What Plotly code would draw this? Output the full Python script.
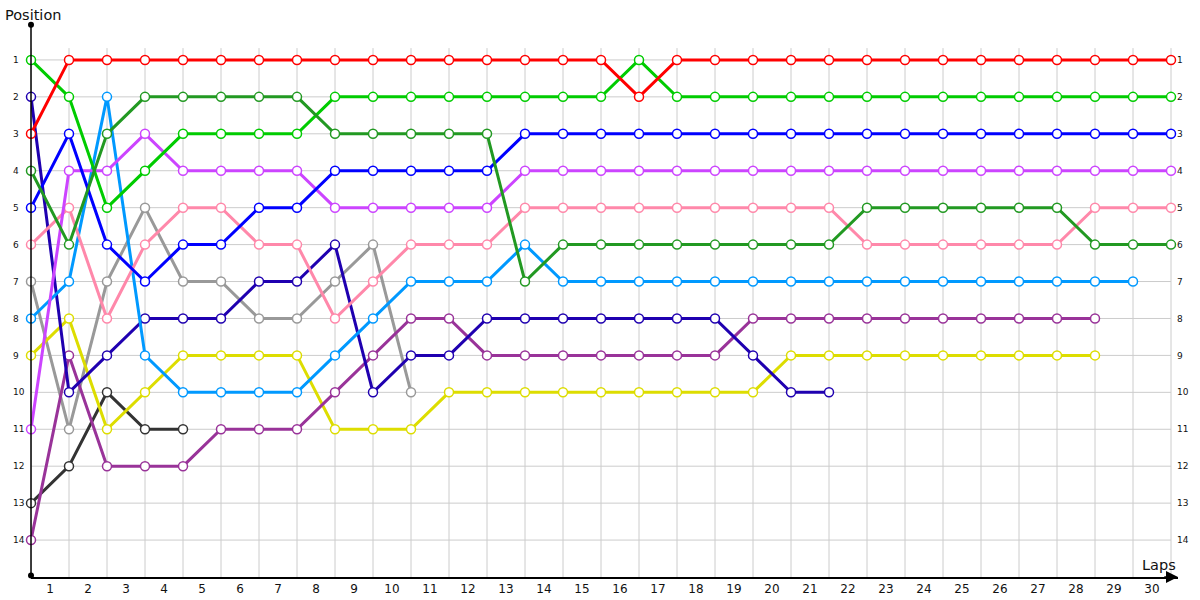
import plotly.graph_objects as go

# ---------------- data ----------------
laps = list(range(31))
x_tick_labels = [str(i) for i in range(1, 31)]
positions = list(range(1, 15))

red      = [3, 1, 1, 1, 1, 1, 1, 1, 1, 1, 1, 1, 1, 1, 1, 1, 2, 1, 1, 1, 1, 1, 1, 1, 1, 1, 1, 1, 1, 1, 1]
lgreen   = [1, 2, 5, 4, 3, 3, 3, 3, 2, 2, 2, 2, 2, 2, 2, 2, 1, 2, 2, 2, 2, 2, 2, 2, 2, 2, 2, 2, 2, 2, 2]
dgreen   = [4, 6, 3, 2, 2, 2, 2, 2, 3, 3, 3, 3, 3, 7, 6, 6, 6, 6, 6, 6, 6, 6, 5, 5, 5, 5, 5, 5, 6, 6, 6]
pink     = [6, 5, 8, 6, 5, 5, 6, 6, 8, 7, 6, 6, 6, 5, 5, 5, 5, 5, 5, 5, 5, 5, 6, 6, 6, 6, 6, 6, 5, 5, 5]
blue     = [5, 3, 6, 7, 6, 6, 5, 5, 4, 4, 4, 4, 4, 3, 3, 3, 3, 3, 3, 3, 3, 3, 3, 3, 3, 3, 3, 3, 3, 3, 3]
magenta  = [11, 4, 4, 3, 4, 4, 4, 4, 5, 5, 5, 5, 5, 4, 4, 4, 4, 4, 4, 4, 4, 4, 4, 4, 4, 4, 4, 4, 4, 4, 4]
lblue    = [8, 7, 2, 9, 10, 10, 10, 10, 9, 8, 7, 7, 7, 6, 7, 7, 7, 7, 7, 7, 7, 7, 7, 7, 7, 7, 7, 7, 7, 7]
navy     = [2, 10, 9, 8, 8, 8, 7, 7, 6, 10, 9, 9, 8, 8, 8, 8, 8, 8, 8, 9, 10, 10]
purple   = [14, 9, 12, 12, 12, 11, 11, 11, 10, 9, 8, 8, 9, 9, 9, 9, 9, 9, 9, 8, 8, 8, 8, 8, 8, 8, 8, 8, 8]
yellow   = [9, 8, 11, 10, 9, 9, 9, 9, 11, 11, 11, 10, 10, 10, 10, 10, 10, 10, 10, 10, 9, 9, 9, 9, 9, 9, 9, 9, 9]
gray     = [7, 11, 7, 5, 7, 7, 8, 8, 7, 6, 10]
black    = [13, 12, 10, 11, 11]

series = [
    (black, "#333333"),
    (gray, "#999999"),
    (yellow, "#dddd00"),
    (purple, "#993399"),
    (navy, "#1f00b0"),
    (lblue, "#0099ff"),
    (pink, "#ff88aa"),
    (magenta, "#cc44ff"),
    (blue, "#0000ff"),
    (lgreen, "#00cc00"),
    (dgreen, "#229922"),
    (red, "#ff0000"),
]

W, H = 1200, 600
L_PX, R_PX = 31, 1178
LAP_PX = 38.0
x_max = (R_PX - L_PX) / LAP_PX

fig = go.Figure()

for vals, color in series:
    fig.add_trace(go.Scatter(
        x=laps[:len(vals)], y=vals, mode="lines+markers",
        line=dict(color=color, width=3),
        marker=dict(size=9, color="white", line=dict(color=color, width=1.5)),
        showlegend=False, hoverinfo="x+y", cliponaxis=False,
    ))

# invisible helpers for the label axes
fig.add_trace(go.Scatter(x=[None], y=[None], yaxis="y2", showlegend=False, hoverinfo="skip"))
fig.add_trace(go.Scatter(x=[None], y=[None], yaxis="y3", showlegend=False, hoverinfo="skip"))

# grid lines
shapes = []
for lp in laps:
    shapes.append(dict(type="line", xref="x", yref="y", x0=lp, x1=lp, y0=0.68, y1=15,
                       line=dict(color="#cccccc", width=1), layer="below"))
for p in positions:
    shapes.append(dict(type="line", xref="x", yref="y", x0=0, x1=30, y0=p, y1=p,
                       line=dict(color="#cccccc", width=1), layer="below"))

annotations = [
    dict(text="Position", xref="paper", yref="paper", x=3 / W, y=(577 - 15) / 554,
         xanchor="left", yanchor="middle", showarrow=False,
         font=dict(family="DejaVu Sans", size=14.5, color="#111")),
    dict(text="Laps", xref="paper", yref="paper", x=1159 / W, y=(577 - 565) / 554,
         xanchor="center", yanchor="middle", showarrow=False,
         font=dict(family="DejaVu Sans", size=14.5, color="#111")),
    # x axis arrow head
    dict(text="", xref="x", yref="y", axref="x", ayref="y", x=x_max, y=15,
         ax=x_max - 0.4, ay=15, showarrow=True, arrowhead=2, arrowsize=1.6,
         arrowwidth=1.5, arrowcolor="#000"),
    # y axis end dots
    dict(text="", xref="x", yref="y", axref="x", ayref="y", x=0, y=0.05,
         ax=0, ay=15, showarrow=True, arrowhead=6, startarrowhead=6, arrowside="end+start",
         arrowsize=1, startarrowsize=1, arrowwidth=1.5, arrowcolor="#000"),
]

fig.update_layout(
    width=W, height=H,
    margin=dict(l=0, r=0, t=23, b=23),
    paper_bgcolor="white", plot_bgcolor="white",
    shapes=shapes, annotations=annotations,
    xaxis=dict(
        domain=[L_PX / W, R_PX / W], range=[0, x_max],
        tickvals=[i - 0.5 for i in range(1, 31)], ticktext=x_tick_labels,
        showgrid=False, zeroline=False, showline=True, linecolor="#000", linewidth=1.5,
        ticks="", tickfont=dict(family="DejaVu Sans", size=12, color="#111"),
    ),
    yaxis=dict(
        range=[15, 0], showgrid=False, zeroline=False, showline=False,
        showticklabels=False, ticks="",
    ),
    yaxis2=dict(
        overlaying="y", anchor="free", position=9 / W, side="left",
        ticklabelposition="inside", range=[15, 0], tickvals=positions,
        showgrid=False, zeroline=False, showline=False, ticks="",
        tickfont=dict(family="DejaVu Sans", size=9, color="#111"),
    ),
    yaxis3=dict(
        overlaying="y", anchor="free", position=1176 / W, side="right",
        range=[15, 0], tickvals=positions,
        showgrid=False, zeroline=False, showline=False, ticks="",
        tickfont=dict(family="DejaVu Sans", size=9, color="#111"),
    ),
)

fig.write_html("out.html", config={"displayModeBar": False},
               post_script="document.body.style.margin='0';")
